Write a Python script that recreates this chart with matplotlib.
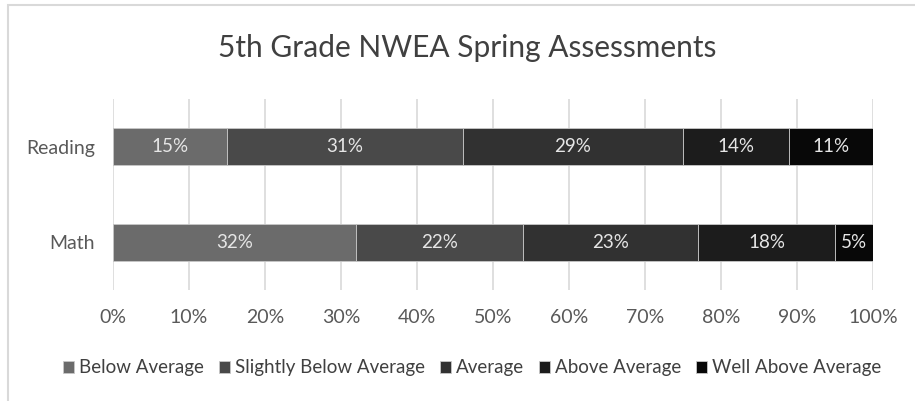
import matplotlib.pyplot as plt
from matplotlib.patches import Rectangle
import numpy as np

subjects = ['Math', 'Reading']
levels = ['Below Average', 'Slightly Below Average', 'Average', 'Above Average', 'Well Above Average']
math_vals = [32, 22, 23, 18, 5]
reading_vals = [15, 31, 29, 14, 11]
colors = ['#6b6b6b', '#494949', '#313131', '#1c1c1c', '#080808']
x_ticks = np.arange(0, 101, 10)

plt.rcParams['font.family'] = ['Lato', 'DejaVu Sans']

fig = plt.figure(figsize=(9.15, 4.01), dpi=100)
ax = fig.add_axes([113 / 915, 1 - 290 / 401, 760 / 915, 191 / 401])

# chart border
fig.patches.append(Rectangle((8 / 915, -0.1), 1.2, 1 - 5 / 401 + 0.1, transform=fig.transFigure,
                             fill=False, edgecolor='#d9d9d9', linewidth=1.5))

data = np.array([math_vals, reading_vals])
left = np.zeros(len(subjects))
y = np.arange(len(subjects))
for i, lvl in enumerate(levels):
    vals = data[:, i]
    bars = ax.barh(y, vals, left=left, height=0.385, color=colors[i], label=lvl,
                   edgecolor='#c8c8c8', linewidth=0.6, zorder=3)
    for b, v in zip(bars, vals):
        ax.text(b.get_x() + b.get_width() / 2, b.get_y() + b.get_height() / 2, f'{v}%',
                ha='center', va='center', color='#e6e6e6', fontsize=13.5, zorder=4)
    left += vals

ax.set_xlim(0, 100)
ax.set_ylim(-0.5, 1.5)
ax.set_xticks(x_ticks)
ax.set_xticklabels([f'{t}%' for t in x_ticks])
ax.set_yticks(y)
ax.set_yticklabels(subjects)
ax.tick_params(length=0, labelsize=14, colors='#595959')
ax.tick_params(axis='y', pad=13)
ax.tick_params(axis='x', pad=14)
ax.grid(axis='x', color='#d9d9d9', linewidth=1.2, zorder=0)
for s in ax.spines.values():
    s.set_visible(False)

fig.text(467 / 915, 1 - 48 / 401, '5th Grade NWEA Spring Assessments', ha='center', va='center',
         fontsize=21.5, color='#404040')

fig.legend(loc='center', bbox_to_anchor=(472 / 915, 1 - 368 / 401), ncol=5, frameon=False,
           fontsize=13.5, labelcolor='#404040', handlelength=0.6, handleheight=0.6,
           handletextpad=0.25, columnspacing=0.8)

fig.savefig('out.png', dpi=100)
